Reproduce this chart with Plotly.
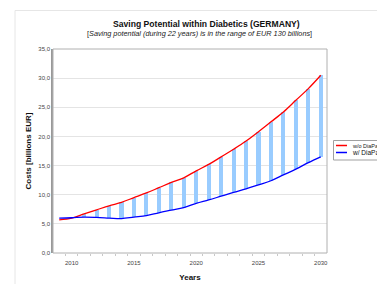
import plotly.graph_objects as go

years = list(range(2009, 2031))
without_diapass = [5.7, 6.0, 6.7, 7.4, 8.1, 8.7, 9.5, 10.3, 11.2, 12.1, 12.9, 14.1,
                   15.2, 16.5, 17.8, 19.2, 20.8, 22.5, 24.2, 26.2, 28.2, 30.5]
with_diapass = [6.0, 6.05, 6.15, 6.1, 6.0, 5.9, 6.15, 6.4, 6.9, 7.35, 7.8, 8.5,
                9.1, 9.75, 10.4, 11.0, 11.7, 12.4, 13.4, 14.4, 15.5, 16.5]
y_tickvals = [0, 5, 10, 15, 20, 25, 30, 35]
y_ticktext = ["0,0", "5,0", "10,0", "15,0", "20,0", "25,0", "30,0", "35,0"]
x_tickvals = [2010, 2015, 2020, 2025, 2030]
legend_names = ["w/o DiaPass", "w/ DiaPass"]

FONT = "Liberation Sans, Arial, sans-serif"
W, H = 377, 284
L, T = 53, 49
R = W - 327
B = H - 253
PW, PH = W - L - R, H - T - B


def px(x):
    """page x pixel -> paper coordinate"""
    return (x - L) / PW


def py(y):
    """page y pixel -> paper coordinate"""
    return (H - B - y) / PH


# saving potential bars (gap between the two scenarios)
bar_x, bar_base, bar_h = [], [], []
for yr, a, b in zip(years, without_diapass, with_diapass):
    if a > b:
        bar_x.append(yr)
        bar_base.append(b)
        bar_h.append(a - b)

fig = go.Figure()
fig.add_trace(go.Bar(x=bar_x, y=bar_h, base=bar_base, width=0.33,
                     marker=dict(color="#99ccff", line=dict(width=0)),
                     showlegend=False, hoverinfo="skip"))
fig.add_trace(go.Scatter(x=years, y=without_diapass, mode="lines", name=legend_names[0],
                         line=dict(color="#ff0000", width=1.3, shape="spline"), showlegend=False))
fig.add_trace(go.Scatter(x=years, y=with_diapass, mode="lines", name=legend_names[1],
                         line=dict(color="#0000ff", width=1.3, shape="spline"), showlegend=False))

shapes = [
    # outer card outline
    dict(type="line", xref="paper", yref="paper", x0=px(15), x1=px(400), y0=py(10.5), y1=py(10.5),
         line=dict(color="#e6e6e6", width=1)),
    dict(type="line", xref="paper", yref="paper", x0=px(15), x1=px(15), y0=py(10.5), y1=py(300),
         line=dict(color="#e6e6e6", width=1)),
    # plot box
    dict(type="rect", xref="paper", yref="paper", x0=0, x1=1, y0=0, y1=1,
         line=dict(color="#b0b0b0", width=1), layer="above"),
    # legend box
    dict(type="rect", xref="paper", yref="paper", x0=px(333.5), x1=px(400), y0=py(160), y1=py(140.5),
         line=dict(color="#a0a0a0", width=1)),
    dict(type="line", xref="paper", yref="paper", x0=px(336), x1=px(347), y0=py(145.5), y1=py(145.5),
         line=dict(color="#ff0000", width=1.5)),
    dict(type="line", xref="paper", yref="paper", x0=px(336), x1=px(347), y0=py(152.5), y1=py(152.5),
         line=dict(color="#0000ff", width=1.5)),
]

annotations = [
    dict(text="<b>Saving Potential within Diabetics (GERMANY)</b>", xref="paper", yref="paper",
         x=px(206), y=py(24.5), xanchor="center", yanchor="middle", showarrow=False,
         font=dict(family=FONT, size=8.6, color="#111")),
    dict(text="[<i>Saving potential (during 22 years) is in the range of EUR 130 billions</i>]",
         xref="paper", yref="paper", x=px(199), y=py(33.5), xanchor="center", yanchor="middle",
         showarrow=False, font=dict(family=FONT, size=7.3, color="#222")),
    dict(text=legend_names[0], xref="paper", yref="paper", x=px(350), y=py(145.5),
         xanchor="left", yanchor="middle", showarrow=False,
         font=dict(family=FONT, size=5.5, color="#222")),
    dict(text=legend_names[1], xref="paper", yref="paper", x=px(350), y=py(152.5),
         xanchor="left", yanchor="middle", showarrow=False,
         font=dict(family=FONT, size=6.5, color="#111")),
]

fig.update_layout(
    width=W, height=H,
    margin=dict(l=L, r=R, t=T, b=B, pad=0, autoexpand=False),
    paper_bgcolor="white", plot_bgcolor="white",
    font=dict(family=FONT, size=6, color="#444"),
    showlegend=False,
    bargap=0,
    shapes=shapes,
    annotations=annotations,
    xaxis=dict(
        range=[2008.5, 2030.5], tickmode="array", tickvals=x_tickvals,
        ticks="", showgrid=False, zeroline=False, showline=False,
        automargin=False, ticklabelstandoff=5,
        tickfont=dict(family=FONT, size=6, color="#444"),
        title=dict(text="<b>Years</b>", font=dict(family=FONT, size=8, color="#111"), standoff=9),
        minor=dict(tickmode="array", tickvals=[y + 0.5 for y in years[:-1]],
                   ticks="outside", ticklen=1.5, tickcolor="#c8c8c8", tickwidth=1, showgrid=False),
        fixedrange=True,
    ),
    yaxis=dict(
        range=[0, 35], tickmode="array", tickvals=y_tickvals, ticktext=y_ticktext,
        ticks="", showgrid=True, gridcolor="#e4e4e4", gridwidth=1, zeroline=False,
        showline=True, linecolor="#999999", linewidth=1.5, automargin=False,
        tickfont=dict(family=FONT, size=6, color="#444"),
        title=dict(text="<b>Costs [billions EUR]</b>", font=dict(family=FONT, size=8, color="#111"),
                   standoff=6),
        fixedrange=True,
    ),
)

fig.write_html("out.html", config={"displayModeBar": False},
               post_script="document.body.style.margin='0';document.body.style.overflow='hidden';")
